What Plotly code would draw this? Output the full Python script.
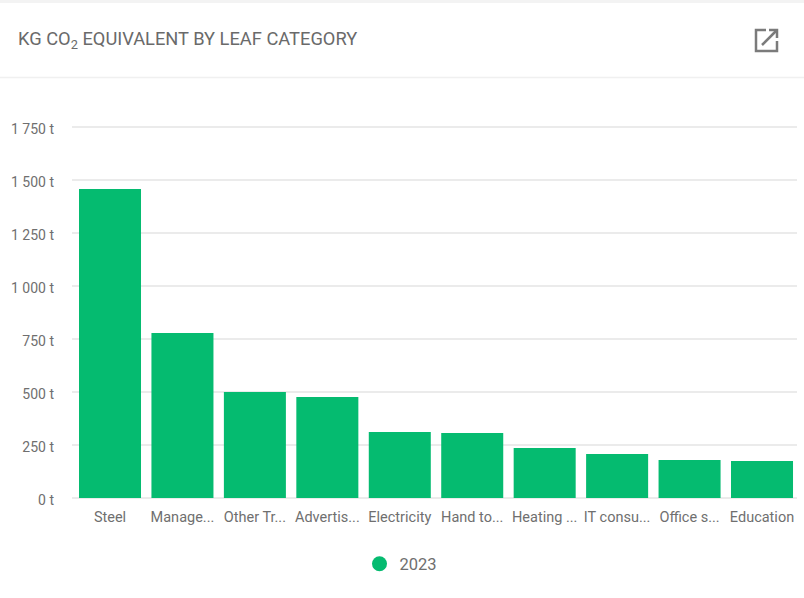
import plotly.graph_objects as go

categories = ["Steel", "Manage...", "Other Tr...", "Advertis...", "Electricity", "Hand to...", "Heating ...", "IT consu...", "Office s...", "Education"]
values_2023 = [1458, 778, 500, 476, 311, 307, 236, 208, 179, 175]
tick_values = [0, 250, 500, 750, 1000, 1250, 1500, 1750]
tick_labels = ["0 t", "250 t", "500 t", "750 t", "1 000 t", "1 250 t", "1 500 t", "1 750 t"]
series_name = "2023"
title_text = "KG CO<sub>2</sub> EQUIVALENT BY LEAF CATEGORY"

W, H = 804, 598
GREEN = "#05BB70"
TXT = "#6f6f6f"


def px(x):
    return x / W


def py(y):
    return 1 - y / H


fig = go.Figure()
fig.add_trace(go.Bar(x=categories, y=values_2023, marker=dict(color=GREEN, line=dict(width=0)),
                     width=0.856, showlegend=False, name=series_name))
fig.add_trace(go.Scatter(x=[None], y=[None], mode="markers", name=series_name,
                         marker=dict(color=GREEN, size=15, symbol="circle")))

shapes = [
    dict(type="rect", xref="paper", yref="paper", x0=0, x1=1, y0=py(3), y1=1, fillcolor="#f3f3f3", line_width=0, layer="below"),
    dict(type="line", xref="paper", yref="paper", x0=0, x1=1, y0=py(77.5), y1=py(77.5), line=dict(color="#f0f0f0", width=1.5), layer="below"),
    # open-in-new icon
    dict(type="path", xref="paper", yref="paper",
         path=f"M {px(766)} {py(30)} L {px(756)} {py(30)} L {px(756)} {py(51)} L {px(777)} {py(51)} L {px(777)} {py(41)}",
         line=dict(color="#7b7b7b", width=2.5)),
    dict(type="path", xref="paper", yref="paper",
         path=f"M {px(769)} {py(30)} L {px(777)} {py(30)} L {px(777)} {py(38)}",
         line=dict(color="#7b7b7b", width=2.5)),
    dict(type="line", xref="paper", yref="paper", x0=px(762), x1=px(776), y0=py(45), y1=py(31),
         line=dict(color="#7b7b7b", width=2.5)),
]

fig.update_layout(
    width=W, height=H, autosize=False,
    margin=dict(l=0, r=0, t=0, b=0),
    paper_bgcolor="white", plot_bgcolor="white",
    font=dict(family="Roboto, sans-serif", color=TXT, size=13),
    shapes=shapes,
    annotations=[dict(text=title_text, xref="paper", yref="paper", x=px(15.5), y=py(40), xanchor="left", yanchor="middle",
                      showarrow=False, font=dict(size=18.3, color="#6a6a6a", family="Roboto, sans-serif"))],
    xaxis=dict(domain=[px(72), px(797)], type="category", range=[-0.5246, 9.483], showgrid=False, showline=False, ticks="",
               tickfont=dict(size=14.5, color=TXT), automargin=False, tickangle=0, fixedrange=True, ticklabelstandoff=8),
    yaxis=dict(domain=[py(498), py(126)], range=[0, 1755], tickvals=tick_values, ticktext=tick_labels,
               gridcolor="#ebebeb", gridwidth=1.5, zeroline=True, zerolinecolor="#ebebeb", zerolinewidth=1.5,
               showline=False, ticks="", tickfont=dict(size=14, color=TXT), automargin=False, fixedrange=True,
               ticklabelstandoff=17, ticklabelshift=2),
    legend=dict(orientation="h", x=px(401), y=py(564), xanchor="center", yanchor="middle",
                font=dict(size=16.5, color=TXT), itemclick=False, itemdoubleclick=False),
)

fig.write_html("out.html", config=dict(displayModeBar=False),
               post_script="document.body.style.margin='0';")
